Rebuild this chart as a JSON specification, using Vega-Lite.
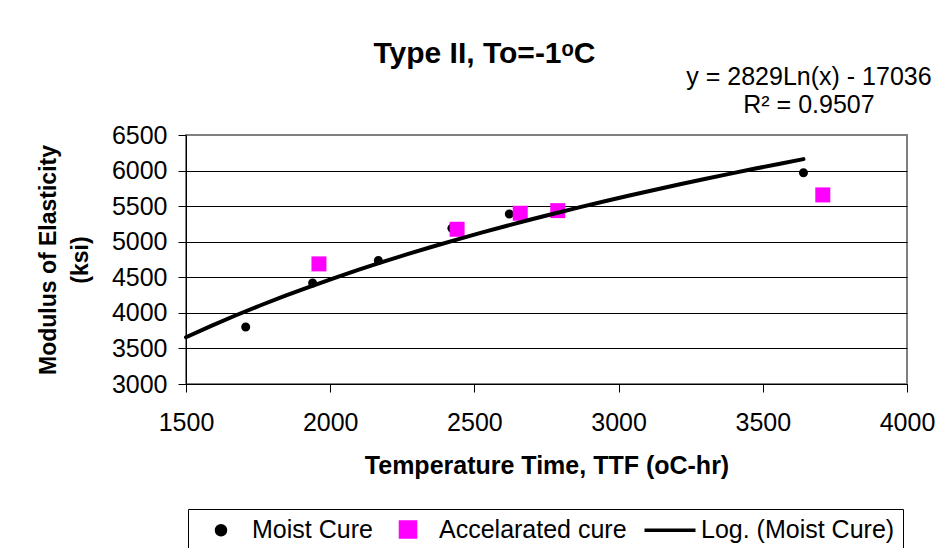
{
  "$schema": "https://vega.github.io/schema/vega-lite/v6.json",
  "width": 721,
  "height": 249,
  "autosize": {"type": "none"},
  "padding": {"left": 186, "top": 135, "right": 39, "bottom": 164},
  "background": "white",
  "config": {
    "font": "Liberation Sans",
    "view": {"stroke": "#808080", "strokeWidth": 2},
    "axis": {
      "labelFont": "Liberation Sans",
      "titleFont": "Liberation Sans",
      "labelColor": "black",
      "titleColor": "black",
      "domainColor": "black",
      "tickColor": "black",
      "labelFontSize": 25,
      "tickSize": 8,
      "labelFlush": false,
      "labelOverlap": false
    },
    "legend": {
      "symbolStrokeWidth": 3.5
    }
  },
  "title": {
    "text": "Type II, To=-1ᵒC",
    "fontSize": 30,
    "fontWeight": "bold",
    "font": "Liberation Sans",
    "color": "black",
    "frame": "group",
    "anchor": "middle",
    "dx": -62,
    "offset": -28,
    "baseline": "alphabetic"
  },
  "datasets": {
    "measurements": [
      {"series": "Moist Cure", "x": 1707, "y": 3800},
      {"series": "Moist Cure", "x": 1939, "y": 4418},
      {"series": "Moist Cure", "x": 2167, "y": 4735},
      {"series": "Moist Cure", "x": 2422, "y": 5190},
      {"series": "Moist Cure", "x": 2621, "y": 5390},
      {"series": "Moist Cure", "x": 3641, "y": 5970},
      {"series": "Accelarated cure", "x": 1961, "y": 4688},
      {"series": "Accelarated cure", "x": 2440, "y": 5175},
      {"series": "Accelarated cure", "x": 2659, "y": 5400},
      {"series": "Accelarated cure", "x": 2789, "y": 5437},
      {"series": "Accelarated cure", "x": 3708, "y": 5658}
    ],
    "equation": [
      {"label": "y = 2829Ln(x) - 17036", "x": 3660, "y": 7200},
      {"label": "R² = 0.9507", "x": 3660, "y": 6805}
    ]
  },
  "encoding": {
    "x": {
      "field": "x",
      "type": "quantitative",
      "scale": {"domain": [1500, 4000], "nice": false, "zero": false},
      "axis": {
        "title": "Temperature Time, TTF (oC-hr)",
        "titleFontSize": 25,
        "titleFontWeight": "bold",
        "titlePadding": 18,
        "labelPadding": 18,
        "grid": false,
        "format": "d",
        "labelFlush": false,
        "labelOverlap": false,
        "values": [1500, 2000, 2500, 3000, 3500, 4000]
      }
    },
    "y": {
      "field": "y",
      "type": "quantitative",
      "scale": {"domain": [3000, 6500], "nice": false, "zero": false},
      "axis": {
        "title": ["Modulus of Elasticity", "(ksi)"],
        "titleFontSize": 23,
        "titleFontWeight": "bold",
        "titleLineHeight": 32,
        "titlePadding": 19,
        "labelPadding": 11,
        "grid": true,
        "format": "d",
        "labelFlush": false,
        "labelOverlap": false,
        "gridColor": {"condition": {"test": "datum.value === 6500", "value": "#808080"}, "value": "black"},
        "gridWidth": 1,
        "values": [3000, 3500, 4000, 4500, 5000, 5500, 6000, 6500]
      }
    }
  },
  "layer": [
    {
      "data": {"name": "measurements"},
      "mark": {"type": "point", "filled": true, "size": 100, "opacity": 1, "strokeWidth": 0},
      "encoding": {
        "color": {
          "field": "series",
          "type": "nominal",
          "scale": {
            "domain": ["Moist Cure", "Accelarated cure", "Log. (Moist Cure)"],
            "range": ["black", "#FF00FF", "black"]
          },
          "legend": {
            "orient": "none",
            "legendX": 2,
            "legendY": 374,
            "direction": "horizontal",
            "columns": 3,
            "title": null,
            "labelFontSize": 25,
            "labelColor": "black",
            "labelFont": "Liberation Sans",
            "labelLimit": 0,
            "symbolSize": 100,
            "symbolStrokeWidth": 3.5,
            "symbolOffset": 12.5,
            "labelOffset": 18.5,
            "columnPadding": 10,
            "padding": 8,
            "strokeColor": "black",
            "fillColor": "white",
            "encode": {
              "symbols": {
                "update": {
                  "shape": {"scale": "shape", "field": "value"},
                  "size": {"value": 100},
                  "fill": {"scale": "color", "field": "value"},
                  "stroke": {"signal": "datum.value === 'Log. (Moist Cure)' ? 'black' : 'transparent'"},
                  "strokeWidth": {"value": 3.5},
                  "opacity": {"value": 1}
                }
              }
            }
          }
        },
        "shape": {
          "field": "series",
          "type": "nominal",
          "scale": {
            "domain": ["Moist Cure", "Accelarated cure", "Log. (Moist Cure)"],
            "range": [
              "M-0.9,0A0.9,0.9,0,1,1,0.9,0A0.9,0.9,0,1,1,-0.9,0Z",
              "M-1.5,-1.5H1.5V1.5H-1.5Z",
              "M-5.1,0H5.1"
            ]
          },
          "legend": {
            "orient": "none",
            "legendX": 2,
            "legendY": 374,
            "direction": "horizontal",
            "columns": 3,
            "title": null,
            "labelFontSize": 25,
            "labelColor": "black",
            "labelFont": "Liberation Sans",
            "labelLimit": 0,
            "symbolSize": 100,
            "symbolStrokeWidth": 3.5,
            "symbolOffset": 12.5,
            "labelOffset": 18.5,
            "columnPadding": 10,
            "padding": 8,
            "strokeColor": "black",
            "fillColor": "white",
            "encode": {
              "symbols": {
                "update": {
                  "shape": {"scale": "shape", "field": "value"},
                  "size": {"value": 100},
                  "fill": {"scale": "color", "field": "value"},
                  "stroke": {"signal": "datum.value === 'Log. (Moist Cure)' ? 'black' : 'transparent'"},
                  "strokeWidth": {"value": 3.5},
                  "opacity": {"value": 1}
                }
              }
            }
          }
        }
      }
    },
    {
      "data": {"name": "measurements"},
      "transform": [
        {"filter": "datum.series === 'Moist Cure'"},
        {"regression": "y", "on": "x", "method": "log", "extent": [1500, 3641]}
      ],
      "mark": {"type": "line", "strokeWidth": 4, "strokeCap": "round"},
      "encoding": {
        "color": {
          "datum": "Log. (Moist Cure)",
          "type": "nominal",
          "legend": {
            "orient": "none",
            "legendX": 2,
            "legendY": 374,
            "direction": "horizontal",
            "columns": 3,
            "title": null,
            "labelFontSize": 25,
            "labelColor": "black",
            "labelFont": "Liberation Sans",
            "labelLimit": 0,
            "symbolSize": 100,
            "symbolStrokeWidth": 3.5,
            "symbolOffset": 12.5,
            "labelOffset": 18.5,
            "columnPadding": 10,
            "padding": 8,
            "strokeColor": "black",
            "fillColor": "white",
            "encode": {
              "symbols": {
                "update": {
                  "shape": {"scale": "shape", "field": "value"},
                  "size": {"value": 100},
                  "fill": {"scale": "color", "field": "value"},
                  "stroke": {"signal": "datum.value === 'Log. (Moist Cure)' ? 'black' : 'transparent'"},
                  "strokeWidth": {"value": 3.5},
                  "opacity": {"value": 1}
                }
              }
            }
          }
        }
      }
    },
    {
      "data": {"name": "equation"},
      "mark": {"type": "text", "fontSize": 25, "align": "center", "baseline": "alphabetic", "color": "black", "font": "Liberation Sans"},
      "encoding": {
        "text": {"field": "label"}
      }
    }
  ]
}
